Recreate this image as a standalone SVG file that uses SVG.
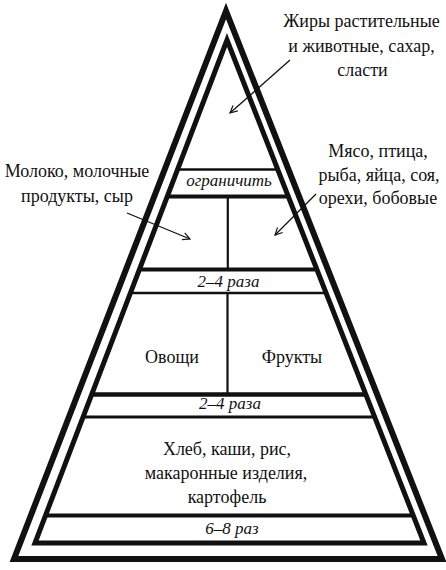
<svg xmlns="http://www.w3.org/2000/svg" width="446" height="570" viewBox="0 0 446 570">
<style>
.t{font-family:"Liberation Serif","DejaVu Serif",serif;font-size:18px;fill:#111;text-anchor:middle}
.i{font-family:"Liberation Serif","DejaVu Serif",serif;font-size:17px;font-style:italic;fill:#111;text-anchor:middle}
.band{stroke:#111;fill:none}
.arr{stroke:#111;stroke-width:1.3;fill:none;marker-end:url(#ah)}
</style>
<defs>
<marker id="ah" viewBox="0 0 10 10" refX="9" refY="5" markerWidth="9" markerHeight="9" markerUnits="userSpaceOnUse" orient="auto">
<path d="M1,1 L9,5 L1,9" fill="none" stroke="#111" stroke-width="1.3"/>
</marker>
</defs>
<rect width="446" height="570" fill="#fff"/>
<g id="pyramid">
<polygon points="226,11 14,559 442,559" fill="none" stroke="#111" stroke-width="6"/>
<polygon points="227,40 35,543 424,543" fill="none" stroke="#111" stroke-width="5"/>
</g>
<g id="bands">
<line class="band" x1="177.6" y1="169.5" x2="277.7" y2="169.5" stroke-width="2.5"/>
<line class="band" x1="167.3" y1="196.5" x2="288.3" y2="196.5" stroke-width="4"/>
<line class="band" x1="139.4" y1="269.5" x2="316.9" y2="269.5" stroke-width="4"/>
<line class="band" x1="130.4" y1="293" x2="326.1" y2="293" stroke-width="2.5"/>
<line class="band" x1="91.7" y1="394.5" x2="365.9" y2="394.5" stroke-width="4.5"/>
<line class="band" x1="83.1" y1="417" x2="374.7" y2="417" stroke-width="3"/>
<line class="band" x1="45.5" y1="515.5" x2="413.3" y2="515.5" stroke-width="4"/>
<line class="band" x1="227.8" y1="196.5" x2="227.8" y2="269.5" stroke-width="2.2"/>
<line class="band" x1="227.5" y1="293" x2="227.5" y2="394.5" stroke-width="2.2"/>
</g>
<g id="node-fats">
<text class="t" x="361.5" y="27">Жиры растительные</text>
<text class="t" x="361.5" y="52">и животные, сахар,</text>
<text class="t" x="362.5" y="76">сласти</text>
</g>
<g id="node-limit"><text class="i" x="229" y="186">ограничить</text></g>
<g id="node-milk">
<text class="t" x="77" y="177">Молоко, молочные</text>
<text class="t" x="77" y="202">продукты, сыр</text>
</g>
<g id="node-meat">
<text class="t" x="378" y="157">Мясо, птица,</text>
<text class="t" x="379" y="181">рыба, яйца, соя,</text>
<text class="t" x="378" y="204">орехи, бобовые</text>
</g>
<g id="node-freq1"><text class="i" x="228.5" y="286.5">2–4 раза</text></g>
<g id="node-veg"><text class="t" x="172" y="363">Овощи</text></g>
<g id="node-fruit"><text class="t" x="292" y="363">Фрукты</text></g>
<g id="node-freq2"><text class="i" x="230" y="409">2–4 раза</text></g>
<g id="node-grain">
<text class="t" x="227" y="455">Хлеб, каши, рис,</text>
<text class="t" x="226" y="479">макаронные изделия,</text>
<text class="t" x="227" y="503">картофель</text>
</g>
<g id="node-freq3"><text class="i" x="232" y="534">6–8 раз</text></g>
<g id="connectors">
<line class="arr" x1="290" y1="60" x2="230" y2="113"/>
<line class="arr" x1="127" y1="213" x2="190" y2="239"/>
<line class="arr" x1="316" y1="194" x2="275" y2="235"/>
</g>
</svg>
